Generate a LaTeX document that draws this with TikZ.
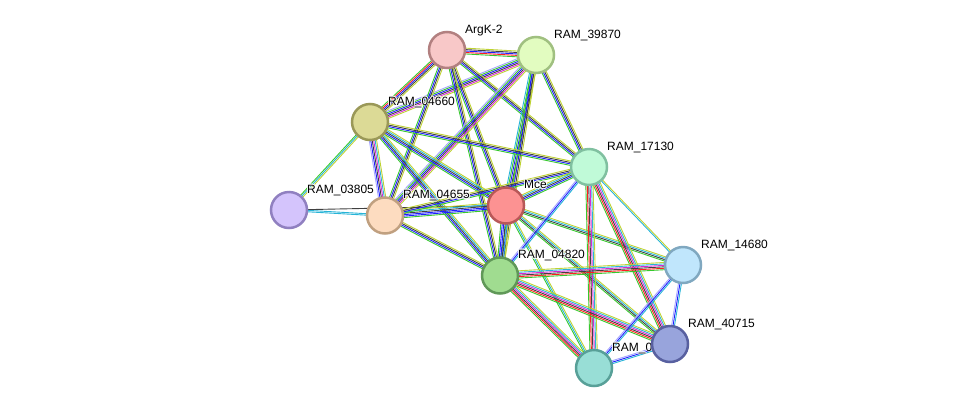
\documentclass[tikz,border=0pt]{standalone}
\usepackage{fontspec}
\setmainfont{Liberation Sans}
\usetikzlibrary{calc}
\pgfdeclarelayer{edges}
\pgfdeclarelayer{labels}
\pgfsetlayers{edges,labels,main}
\definecolor{eG}{RGB}{55,200,45}
\definecolor{eR}{RGB}{255,30,30}
\definecolor{eB}{RGB}{30,30,255}
\definecolor{eK}{RGB}{64,64,64}
\definecolor{eM}{RGB}{215,40,215}
\definecolor{eC}{RGB}{40,180,215}
\definecolor{eY}{RGB}{190,210,50}
\definecolor{eL}{RGB}{165,165,255}
\tikzset{
  pnode/.style={circle, minimum size=36pt, inner sep=0pt, line width=2.5pt},
  lab/.style={anchor=base west, inner sep=0pt, font=\fontsize{12pt}{14pt}\selectfont, text=black},
  halo/.style={lab, text=white, opacity=0.8},
  edgeline/.style={line width=0.9pt}
}
\newcommand\sedge[3]{%
  \foreach \ec [count=\ei] in {#3} {\xdef\enn{\ei}}%
  \foreach \ec [count=\ei] in {#3} {%
    \pgfmathsetmacro\eoff{(\ei-(\enn+1)/2)*1.45}%
    \draw[\ec, edgeline] ($(#1)!\eoff pt!90:(#2)$) -- ($(#2)!\eoff pt!-90:(#1)$);%
  }%
}
\newcommand\hlabel[3]{%
  \foreach \hx/\hy in {-0.9/0,0.9/0,0/-0.9,0/0.9,-0.7/-0.7,0.7/-0.7,-0.7/0.7,0.7/0.7} {%
    \node[halo] at ($(#2)+(18+\hx,-17+\hy)$) {#3};%
  }%
  \node[lab] (#1) at ($(#2)+(18,-17)$) {#3};%
}
\begin{document}
\begin{tikzpicture}[x=1pt, y=-1pt]
\useasboundingbox (0,0) rectangle (976,413);
% nodes
\node[pnode, fill={rgb,255:red,248;green,200;blue,200}, draw={rgb,255:red,178;green,128;blue,128}] (argk) at (447,50) {};
\node[pnode, fill={rgb,255:red,226;green,252;blue,192}, draw={rgb,255:red,160;green,192;blue,128}] (r39870) at (536,55) {};
\node[pnode, fill={rgb,255:red,220;green,218;blue,150}, draw={rgb,255:red,154;green,152;blue,88}] (r04660) at (370,122) {};
\node[pnode, fill={rgb,255:red,192;green,250;blue,216}, draw={rgb,255:red,128;green,192;blue,160}] (r17130) at (589,167) {};
\node[pnode, fill={rgb,255:red,252;green,146;blue,146}, draw={rgb,255:red,184;green,88;blue,88}] (mce) at (506,205.5) {};
\node[pnode, fill={rgb,255:red,212;green,196;blue,252}, draw={rgb,255:red,144;green,128;blue,192}] (r03805) at (289,210) {};
\node[pnode, fill={rgb,255:red,253;green,220;blue,192}, draw={rgb,255:red,192;green,160;blue,128}] (r04655) at (385,215.5) {};
\node[pnode, fill={rgb,255:red,160;green,220;blue,144}, draw={rgb,255:red,96;green,152;blue,88}] (r04820) at (500,275.5) {};
\node[pnode, fill={rgb,255:red,192;green,230;blue,252}, draw={rgb,255:red,128;green,168;blue,192}] (r14680) at (683,265) {};
\node[pnode, fill={rgb,255:red,152;green,164;blue,220}, draw={rgb,255:red,88;green,96;blue,160}] (r40715) at (670,344) {};
\node[pnode, fill={rgb,255:red,152;green,222;blue,214}, draw={rgb,255:red,88;green,160;blue,152}] (r0) at (594,368) {};
% labels
\begin{pgfonlayer}{labels}
\hlabel{l-argk}{argk}{ArgK-2}
\hlabel{l-39870}{r39870}{RAM\_39870}
\hlabel{l-04660}{r04660}{RAM\_04660}
\hlabel{l-17130}{r17130}{RAM\_17130}
\hlabel{l-mce}{mce}{Mce}
\hlabel{l-03805}{r03805}{RAM\_03805}
\hlabel{l-04655}{r04655}{RAM\_04655}
\hlabel{l-04820}{r04820}{RAM\_04820}
\hlabel{l-14680}{r14680}{RAM\_14680}
\hlabel{l-40715}{r40715}{RAM\_40715}
\hlabel{l-r0}{r0}{RAM\_0}
\end{pgfonlayer}
% edges
\begin{pgfonlayer}{edges}
\sedge{argk}{r39870}{eG,eR,eB,eK,eY}
\sedge{argk}{r04660}{eG,eR,eB,eK,eY}
\sedge{r39870}{r04660}{eL,eG,eB,eK,eM,eY}
\sedge{argk}{mce}{eG,eB,eK,eY}
\sedge{argk}{r04655}{eG,eB,eK,eY}
\sedge{argk}{r04820}{eG,eB,eK,eY}
\sedge{argk}{r17130}{eG,eB,eK,eY}
\sedge{r39870}{r17130}{eG,eB,eK,eY}
\sedge{r39870}{mce}{eC,eG,eB,eK,eY}
\sedge{r39870}{r04655}{eL,eG,eB,eK,eM,eY}
\sedge{r39870}{r04820}{eG,eB,eK,eY}
\sedge{r04660}{r03805}{eG,eC,eY}
\sedge{r04660}{r04655}{eL,eB,eK,eM,eC,eY}
\sedge{r04660}{mce}{eG,eB,eK,eC,eY}
\sedge{r04660}{r17130}{eG,eB,eK,eY}
\sedge{r04660}{r04820}{eG,eB,eK,eC,eY}
\sedge{r03805}{mce}{eK}
\sedge{r03805}{r04655}{eC,eC}
\sedge{r04655}{mce}{eG,eB,eB,eK,eC,eY}
\sedge{r04655}{r17130}{eG,eB,eK,eY}
\sedge{r04655}{r04820}{eG,eB,eK,eY}
\sedge{mce}{r17130}{eG,eB,eK,eC,eY}
\sedge{mce}{r04820}{eG,eB,eB,eK,eC,eY}
\sedge{mce}{r14680}{eG,eK,eC,eY}
\sedge{mce}{r40715}{eG,eK,eC,eY}
\sedge{mce}{r0}{eG,eC,eY}
\sedge{r17130}{r04820}{eL,eB,eC}
\sedge{r17130}{r14680}{eC,eY}
\sedge{r17130}{r40715}{eG,eR,eK,eM,eC,eY}
\sedge{r17130}{r0}{eG,eR,eK,eM,eC,eY}
\sedge{r04820}{r14680}{eG,eR,eK,eM,eC,eY}
\sedge{r04820}{r40715}{eG,eR,eK,eM,eC,eY}
\sedge{r04820}{r0}{eG,eR,eK,eM,eC,eY}
\sedge{r14680}{r40715}{eL,eB,eC}
\sedge{r14680}{r0}{eL,eB,eC}
\sedge{r40715}{r0}{eL,eB,eC}
\end{pgfonlayer}
\end{tikzpicture}
\end{document}
